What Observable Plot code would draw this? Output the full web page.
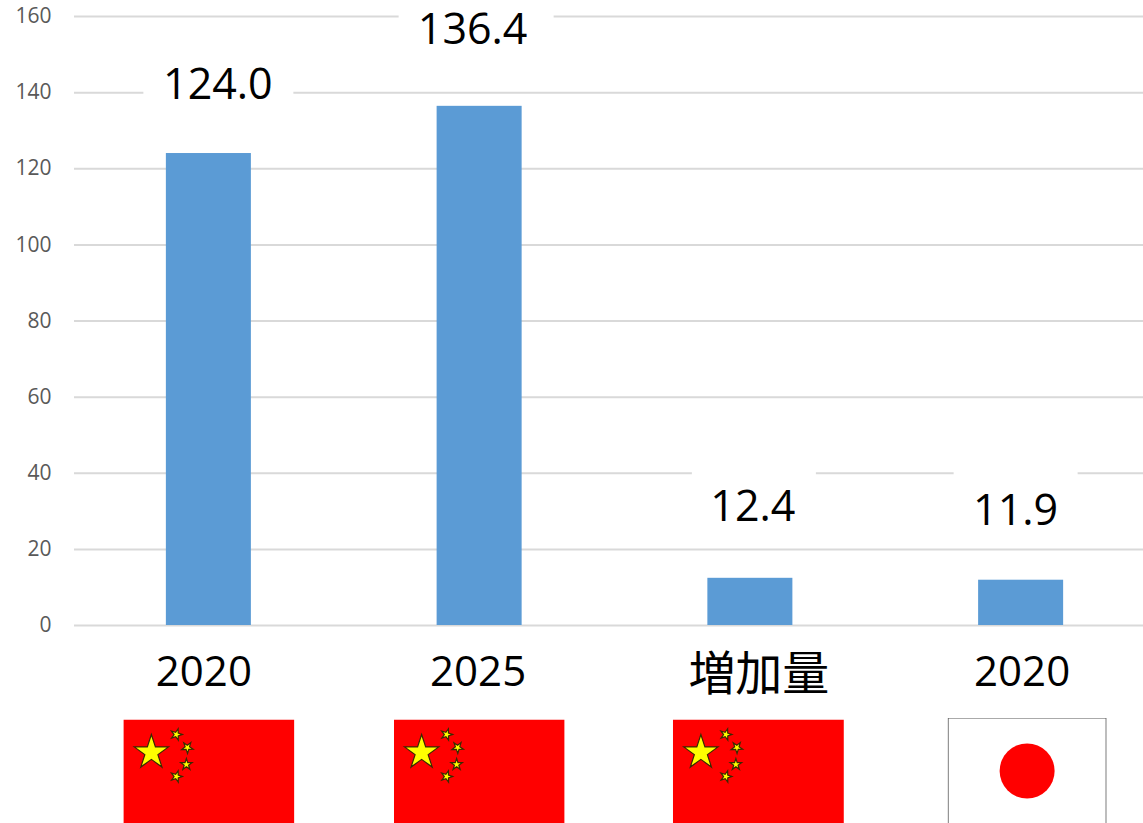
<!DOCTYPE html>
<html><head><meta charset="utf-8">
<script src="https://cdn.jsdelivr.net/npm/d3@7"></script>
<script src="https://cdn.jsdelivr.net/npm/@observablehq/plot@0.6"></script>
<style>html,body{margin:0;padding:0;background:#fff;overflow:hidden}svg{display:block}</style>
</head><body><div id="chart"></div>
<script>
const keys = ["a", "b", "c", "d"];
const categories = ["2020", "2025", "増加量", "2020"];
const values = [124.0, 136.4, 12.4, 11.9];
const valueLabels = ["124.0", "136.4", "12.4", "11.9"];
const countries = ["China", "China", "China", "Japan"];
const yTicks = [0, 20, 40, 60, 80, 100, 120, 140, 160];
// layout nudges (pixels), kept apart from the data
const labelDx = [9, -7, 2.5, -5.5];
const labelDy = [-68, -76.5, -71, -69];
const gapWidth = [150, 155, 124, 124];
const gapDx = [10, -3, 4, -5];
const gapLine = [140, 160, 40, 40];
const catDx = [-5, -1.5, 8.5, 1];
const catSize = [42, 42, 47, 42];
const flagDx = [0, -0.5, 8, 6];

const star = (cx, cy, r, rot) => {
  const p = d3.range(10).map(i => {
    const a = -Math.PI / 2 + rot + i * Math.PI / 5, q = i % 2 ? r * 0.382 : r;
    return `${(cx + q * Math.cos(a)).toFixed(2)},${(cy + q * Math.sin(a)).toFixed(2)}`;
  }).join(" ");
  return `<polygon points="${p}" fill="#ffff00" stroke="#3a2a00" stroke-width="1.2"/>`;
};
const svgUri = s => "data:image/svg+xml;charset=utf-8," + encodeURIComponent(s);
const flagChina = svgUri(`<svg xmlns="http://www.w3.org/2000/svg" width="171" height="105" viewBox="0 0 171 105"><rect width="171" height="105" fill="#ff0000"/>${star(28,33,18,0)}${star(53,15,6,0.3)}${star(64,28,6,0.6)}${star(63,45,6,0)}${star(53,57,6,0.3)}</svg>`);
const flagJapan = svgUri(`<svg xmlns="http://www.w3.org/2000/svg" width="159" height="108" viewBox="0 0 159 108"><rect width="159" height="108" fill="#fff"/><path d="M0.5 108V0.5H158.5V108" fill="none" stroke="#555" stroke-width="1"/><circle cx="79.5" cy="53.5" r="27.5" fill="#ff0000"/></svg>`);

const rows = keys.map((k, i) => ({key: k, value: values[i], country: countries[i]}));

const plot = Plot.plot({
  width: 1143, height: 823,
  marginLeft: 74, marginRight: 0, marginTop: 16, marginBottom: 198,
  style: {fontFamily: "'Open Sans','Noto Sans CJK JP',sans-serif", background: "#fff", overflow: "hidden"},
  x: {type: "band", domain: keys, range: [73, 1156], paddingInner: 0.686, paddingOuter: 0.343, align: 0.5, round: false},
  y: {domain: [0, 160], range: [625, 16]},
  marks: [
    Plot.ruleY(yTicks, {stroke: "#d9d9d9", strokeWidth: 2}),
    Plot.axisY({ticks: yTicks, tickSize: 0, tickPadding: 23, fontSize: 21, color: "#595959", label: null}),
    ...keys.map((k, i) => Plot.barY([k], {
      x: d => d, y1: gapLine[i] - 3, y2: gapLine[i] + 3, fill: "#fff",
      dx: gapDx[i], insetLeft: -(gapWidth[i] - 85) / 2, insetRight: -(gapWidth[i] - 85) / 2
    })),
    Plot.barY(rows, {x: "key", y: "value", fill: "#5b9bd5"}),
    ...keys.map((k, i) => Plot.text([rows[i]], {
      x: "key", y: "value", text: () => valueLabels[i],
      dx: labelDx[i], dy: labelDy[i], fontSize: 43, fill: "#000"
    })),
    ...keys.map((k, i) => Plot.axisX({
      ticks: [k], tickFormat: () => categories[i], anchor: "bottom", tickSize: 0,
      tickPadding: 31, fontSize: catSize[i], color: "#000", label: null, dx: catDx[i]
    })),
    ...keys.map((k, i) => Plot.image([rows[i]], {
      x: "key", y: () => 0, dx: flagDx[i], dy: rows[i].country === "China" ? 146.5 : 146,
      src: () => rows[i].country === "China" ? flagChina : flagJapan,
      width: rows[i].country === "China" ? 171 : 159,
      height: rows[i].country === "China" ? 105 : 108
    }))
  ]
});
document.getElementById("chart").appendChild(plot);
</script>
</body></html>
